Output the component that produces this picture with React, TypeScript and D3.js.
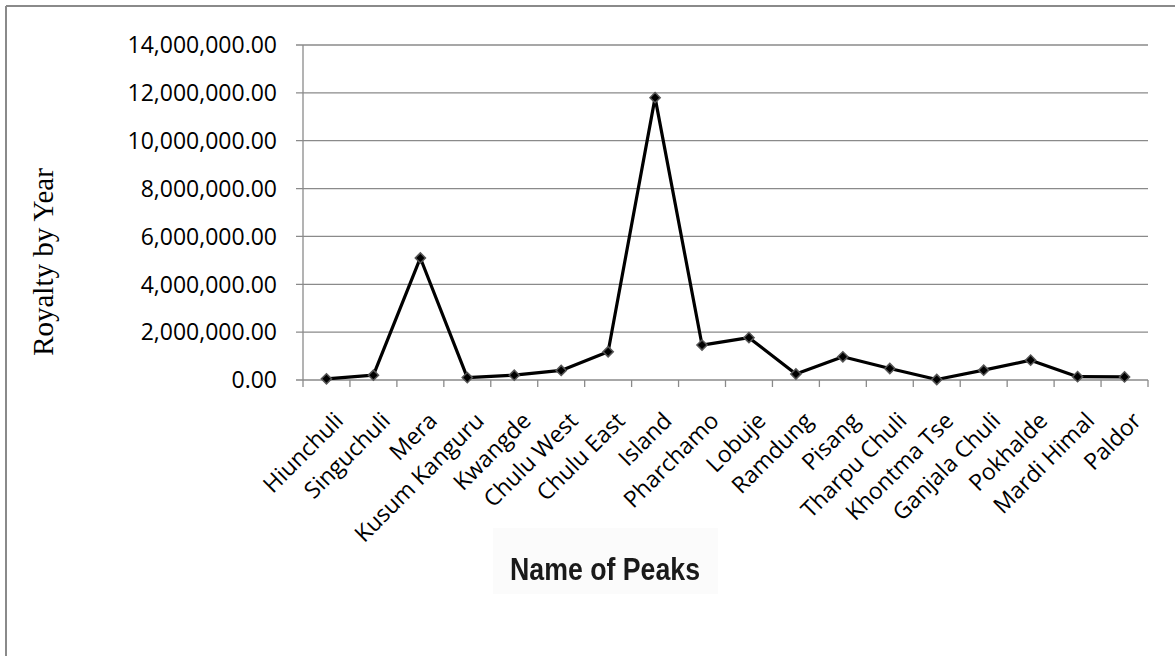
import React, { useEffect, useRef } from "react";
import * as d3 from "d3";

const peaks = [
  "Hiunchuli", "Singuchuli", "Mera", "Kusum Kanguru", "Kwangde", "Chulu West",
  "Chulu East", "Island", "Pharchamo", "Lobuje", "Ramdung", "Pisang",
  "Tharpu Chuli", "Khontma Tse", "Ganjala Chuli", "Pokhalde", "Mardi Himal", "Paldor",
];
const royalty = [
  50000, 200000, 5100000, 100000, 200000, 400000,
  1180000, 11800000, 1460000, 1770000, 250000, 970000,
  480000, 20000, 410000, 830000, 140000, 130000,
];
const yTicks = [0, 2000000, 4000000, 6000000, 8000000, 10000000, 12000000, 14000000];

const W = 1175;
const H = 656;
const plot = { left: 303, right: 1148, top: 45, bottom: 380 };

export default function App() {
  const ref = useRef<SVGSVGElement>(null);

  useEffect(() => {
    const svg = d3.select(ref.current);
    svg.selectAll("*").remove();

    const x = d3.scaleBand<string>().domain(peaks).range([plot.left, plot.right]);
    const y = d3.scaleLinear().domain([0, 14000000]).range([plot.bottom, plot.top]);
    const fmt = d3.format(",.2f");
    const grid = "#8a8a8a";

    // outer frame (top and left edges)
    svg.append("line").attr("x1", 6).attr("x2", W).attr("y1", 6).attr("y2", 6)
      .attr("stroke", grid).attr("stroke-width", 2);
    svg.append("line").attr("x1", 6).attr("x2", 6).attr("y1", 6).attr("y2", H)
      .attr("stroke", grid).attr("stroke-width", 2);

    // horizontal gridlines with left tick stubs
    svg.append("g").selectAll("line").data(yTicks).join("line")
      .attr("x1", plot.left - 7).attr("x2", plot.right)
      .attr("y1", (d) => y(d)).attr("y2", (d) => y(d))
      .attr("stroke", grid).attr("stroke-width", 1.3);

    // y axis line
    svg.append("line").attr("x1", plot.left).attr("x2", plot.left)
      .attr("y1", plot.top).attr("y2", plot.bottom)
      .attr("stroke", grid).attr("stroke-width", 1.3);

    // x tick marks at category boundaries
    const bounds = peaks.map((p) => x(p)!).concat([plot.right]);
    svg.append("g").selectAll("line").data(bounds).join("line")
      .attr("x1", (d) => d).attr("x2", (d) => d)
      .attr("y1", plot.bottom).attr("y2", plot.bottom + 7)
      .attr("stroke", grid).attr("stroke-width", 1.3);

    // y tick labels
    svg.append("g").selectAll("text").data(yTicks).join("text")
      .attr("x", 277).attr("y", (d) => y(d)).attr("dy", "0.36em")
      .attr("text-anchor", "end")
      .attr("font-family", "'Open Sans', sans-serif").attr("font-size", 23)
      .attr("fill", "#000")
      .text((d) => fmt(d));

    // category labels
    svg.append("g").selectAll("text").data(peaks).join("text")
      .attr("transform", (d) => `translate(${x(d)! + x.bandwidth() / 2 + 6},${plot.bottom + 30}) rotate(-45)`)
      .attr("dy", "0.75em")
      .attr("text-anchor", "end")
      .attr("font-family", "'Open Sans', sans-serif").attr("font-size", 23)
      .attr("fill", "#000")
      .text((d) => d);

    // series line
    const cx = (i: number) => x(peaks[i])! + x.bandwidth() / 2;
    const line = d3.line<number>().x((_, i) => cx(i)).y((d) => y(d));
    svg.append("path").datum(royalty).attr("d", line)
      .attr("fill", "none").attr("stroke", "#000").attr("stroke-width", 3.2)
      .attr("stroke-linejoin", "round");

    // diamond markers
    const diamond = d3.symbol().type(d3.symbolSquare).size(52);
    svg.append("g").selectAll("path").data(royalty).join("path")
      .attr("d", diamond)
      .attr("transform", (d, i) => `translate(${cx(i)},${y(d)}) rotate(45)`)
      .attr("fill", "#000").attr("stroke", "#555").attr("stroke-width", 1.5);

    // y axis title
    svg.append("text")
      .attr("transform", "translate(53,262) rotate(-90)")
      .attr("text-anchor", "middle")
      .attr("font-family", "'Liberation Serif', 'Times New Roman', serif").attr("font-size", 29)
      .attr("fill", "#000")
      .text("Royalty by Year");

    // x axis title
    const xt = svg.append("g").attr("transform", "translate(605,570)");
    xt.append("rect").attr("x", -112).attr("y", -42).attr("width", 225).attr("height", 66)
      .attr("fill", "#fbfbfb");
    xt.append("text")
      .attr("text-anchor", "middle").attr("y", 10)
      .attr("font-family", "'Liberation Sans Narrow', 'Arial Narrow', sans-serif")
      .attr("font-size", 32).attr("font-weight", "bold")
      .attr("textLength", 190).attr("lengthAdjust", "spacingAndGlyphs")
      .attr("fill", "#1a1a1a")
      .style("filter", "blur(0.5px)")
      .text("Name of Peaks");
  }, []);

  return (
    <svg
      ref={ref}
      width={W}
      height={H}
      style={{ position: "absolute", left: 0, top: 0, background: "#fff" }}
    />
  );
}
